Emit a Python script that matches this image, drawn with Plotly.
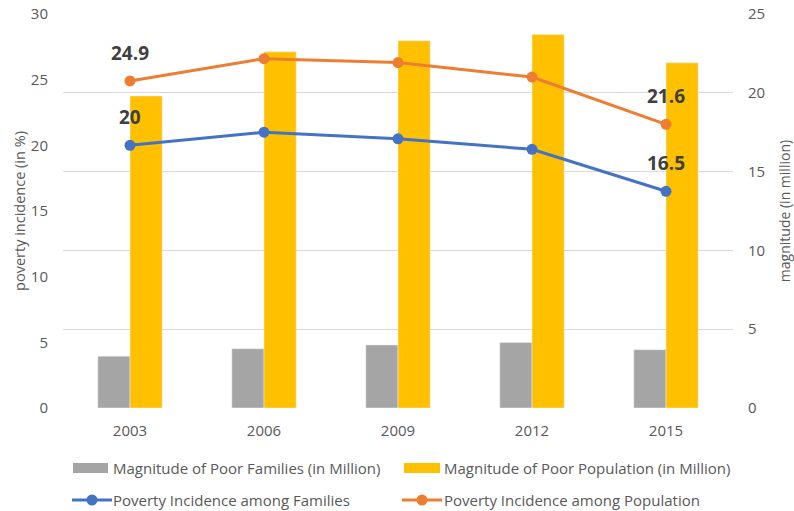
import plotly.graph_objects as go

years = [2003, 2006, 2009, 2012, 2015]
year_labels = ["2003", "2006", "2009", "2012", "2015"]
poor_families_mn = [3.29, 3.76, 4.00, 4.16, 3.70]
poor_population_mn = [19.8, 22.6, 23.3, 23.7, 21.9]
incidence_families = [20.0, 21.0, 20.5, 19.7, 16.5]
incidence_population = [24.9, 26.6, 26.3, 25.2, 21.6]
labelled_idx = [0, 4]

names = [
    "Magnitude of Poor Families (in Million)",
    "Magnitude of Poor Population (in Million)",
    "Poverty Incidence among Families",
    "Poverty Incidence among Population",
]

GREY = "#A5A5A5"
YELLOW = "#FFC000"
BLUE = "#4472C4"
ORANGE = "#ED7D31"
TEXT = "#595959"
FONT = "Open Sans"

W, H = 794, 511
L, R, T, B = 63, 61, 14, 103
PW, PH = W - L - R, H - T - B


def px(x):
    return (x - L) / PW


def py(y):
    return (H - B - y) / PH


fig = go.Figure()
fig.add_trace(go.Bar(x=years, y=poor_families_mn, name=names[0],
                     marker_color=GREY, yaxis="y"))
fig.add_trace(go.Bar(x=years, y=poor_population_mn, name=names[1],
                     marker_color=YELLOW, yaxis="y"))
fig.add_trace(go.Scatter(x=years, y=incidence_families, name=names[2],
                         mode="lines+markers", line=dict(color=BLUE, width=3),
                         marker=dict(size=11, color=BLUE), yaxis="y2"))
fig.add_trace(go.Scatter(x=years, y=incidence_population, name=names[3],
                         mode="lines+markers", line=dict(color=ORANGE, width=3),
                         marker=dict(size=11, color=ORANGE), yaxis="y2"))

# value labels on the first and last points of each incidence line
for series in (incidence_families, incidence_population):
    for i in labelled_idx:
        v = series[i]
        fig.add_annotation(x=years[i], y=v, xref="x", yref="y2", yshift=28,
                           text=f"<b>{v:g}</b>", showarrow=False,
                           font=dict(family=FONT, size=19, color="#404040"))

# legend drawn below the plot in two rows
shapes = []
legend_rows = [
    (468, [(73, 108, 111, "bar", GREY, names[0]), (404, 440, 442, "bar", YELLOW, names[1])]),
    (500, [(72, 112, 111, "line", BLUE, names[2]), (402, 442, 442, "line", ORANGE, names[3])]),
]
for yrow, items in legend_rows:
    for x0, x1, xt, kind, color, label in items:
        if kind == "bar":
            shapes.append(dict(type="rect", xref="paper", yref="paper",
                               x0=px(x0), x1=px(x1), y0=py(yrow + 5), y1=py(yrow - 5),
                               fillcolor=color, line=dict(width=0)))
        else:
            shapes.append(dict(type="line", xref="paper", yref="paper",
                               x0=px(x0), x1=px(x1), y0=py(yrow), y1=py(yrow),
                               line=dict(color=color, width=3)))
            xc = (x0 + x1) / 2
            shapes.append(dict(type="circle", xref="paper", yref="paper",
                               x0=px(xc - 5.5), x1=px(xc + 5.5), y0=py(yrow + 5.5), y1=py(yrow - 5.5),
                               fillcolor=color, line=dict(width=0)))
        fig.add_annotation(x=px(xt), y=py(yrow), xref="paper", yref="paper",
                           xanchor="left", yanchor="middle", text=label, showarrow=False,
                           font=dict(family=FONT, size=15, color=TEXT))

fig.update_layout(
    width=W, height=H,
    margin=dict(l=L, r=R, t=T, b=B),
    paper_bgcolor="white", plot_bgcolor="white",
    barmode="group", bargap=0.52, bargroupgap=0,
    font=dict(family=FONT, size=15, color=TEXT),
    showlegend=False,
    shapes=shapes,
    xaxis=dict(range=[2001.5, 2016.5], tickvals=years, ticktext=year_labels,
               showgrid=False, showline=False, zeroline=False, ticks="", automargin=False,
               ticklabelstandoff=12, tickfont=dict(size=15, color=TEXT)),
    yaxis=dict(side="right", range=[0, 25], dtick=5, showgrid=True, gridcolor="#D9D9D9",
               gridwidth=1, zeroline=False, showline=False, ticks="", automargin=False,
               ticklabelstandoff=14,
               title=dict(text="magnitude (in million)", font=dict(size=14, color=TEXT), standoff=16),
               tickfont=dict(size=15, color=TEXT)),
    yaxis2=dict(side="left", overlaying="y", range=[0, 30], dtick=5, showgrid=False,
                zeroline=False, showline=False, ticks="", automargin=False,
                ticklabelstandoff=14,
                title=dict(text="poverty incidence (in %)", font=dict(size=14.5, color=TEXT), standoff=1),
                tickfont=dict(size=15, color=TEXT)),
)

fig.write_html("out.html")
